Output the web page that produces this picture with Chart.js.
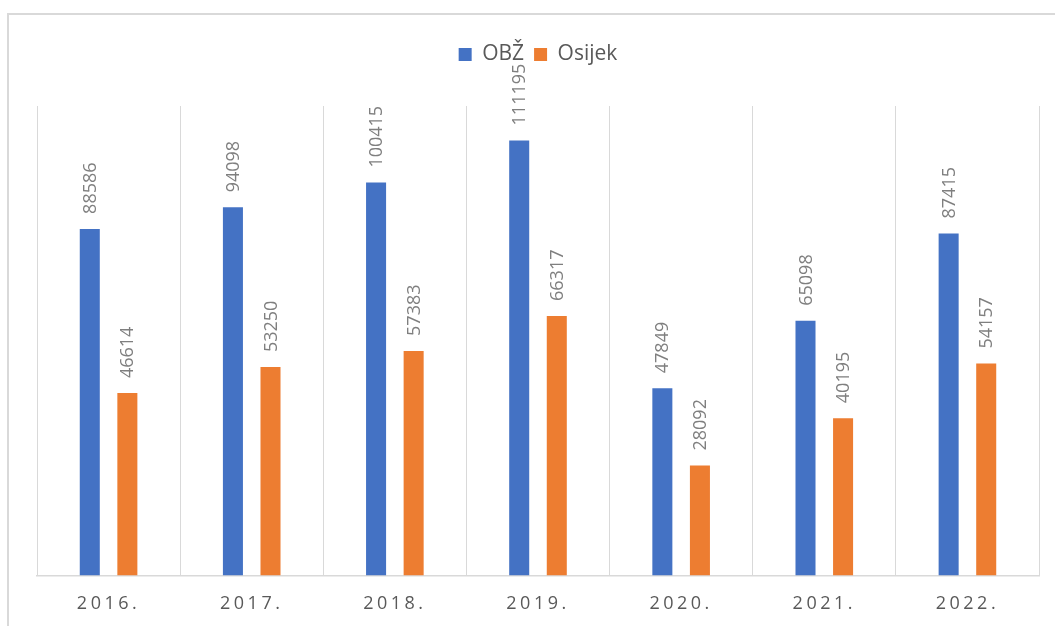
<!DOCTYPE html>
<html>
<head>
<meta charset="utf-8">
<script src="https://cdn.jsdelivr.net/npm/chart.js@4/dist/chart.umd.min.js"></script>
<style>
  body { margin: 0; background: #fff; overflow: hidden; }
  #frame { position: absolute; left: 7px; top: 13px; width: 1100px; height: 700px;
           border-top: 2px solid #d9d9d9; border-left: 2px solid #d9d9d9; }
  #wrap { position: absolute; left: 0; top: 0; width: 1055px; height: 626px; }
</style>
</head>
<body>
<div id="frame"></div>
<div id="wrap"><canvas id="chart"></canvas></div>
<script>
const years = ["2016.", "2017.", "2018.", "2019.", "2020.", "2021.", "2022."];
const obz = [88586, 94098, 100415, 111195, 47849, 65098, 87415];
const osijek = [46614, 53250, 57383, 66317, 28092, 40195, 54157];

// values written vertically above each bar
const barLabels = {
  id: "barLabels",
  afterDatasetsDraw(chart) {
    const ctx = chart.ctx;
    ctx.save();
    ctx.font = "18px 'Open Sans'";
    ctx.fillStyle = "#7f7f7f";
    ctx.textAlign = "left";
    ctx.textBaseline = "middle";
    chart.data.datasets.forEach((ds, i) => {
      chart.getDatasetMeta(i).data.forEach((bar, j) => {
        ctx.save();
        ctx.translate(bar.x + 1, bar.y - 15);
        ctx.rotate(-Math.PI / 2);
        ctx.fillText(String(ds.data[j]), 0, 0);
        ctx.restore();
      });
    });
    ctx.restore();
  }
};

// extra room under the legend + spaced-out year labels
const layoutTweaks = {
  id: "layoutTweaks",
  beforeLayout(chart) {
    const lg = chart.legend;
    if (lg && !lg._tweaked) {
      const fit = lg.fit;
      lg.fit = function() { fit.call(this); this.height += 31; };
      lg._tweaked = true;
    }
  },
  afterLayout(chart) {
    const xs = chart.scales.x;
    if (xs && !xs._spaced) {
      const draw = xs.drawLabels.bind(xs);
      xs.drawLabels = function(area) {
        const c = this.ctx;
        c.save();
        c.letterSpacing = "3.5px";
        draw(area);
        c.restore();
      };
      xs._spaced = true;
    }
  }
};

new Chart(document.getElementById("chart"), {
  type: "bar",
  data: {
    labels: years,
    datasets: [
      { label: "OBŽ", data: obz, backgroundColor: "#4472c4" },
      { label: "Osijek", data: osijek, backgroundColor: "#ed7d31" }
    ]
  },
  options: {
    responsive: true,
    maintainAspectRatio: false,
    animation: false,
    layout: { padding: { left: 37, right: 16, top: 34, bottom: -7 } },
    datasets: { bar: { categoryPercentage: 0.525, barPercentage: 0.533 } },
    scales: {
      x: {
        grid: { color: "#d9d9d9", lineWidth: 1, drawTicks: false },
        border: { color: "#d9d9d9", width: 1.5 },
        ticks: { color: "#595959", padding: 18, font: { family: "'Open Sans'", size: 18 } }
      },
      y: { display: false, min: 0, max: 120000 }
    },
    plugins: {
      legend: {
        position: "top",
        labels: {
          color: "#595959",
          boxWidth: 13,
          boxHeight: 13,
          padding: 10,
          font: { family: "'Open Sans'", size: 21 }
        }
      },
      tooltip: { enabled: false }
    }
  },
  plugins: [barLabels, layoutTweaks]
});
</script>
</body>
</html>
